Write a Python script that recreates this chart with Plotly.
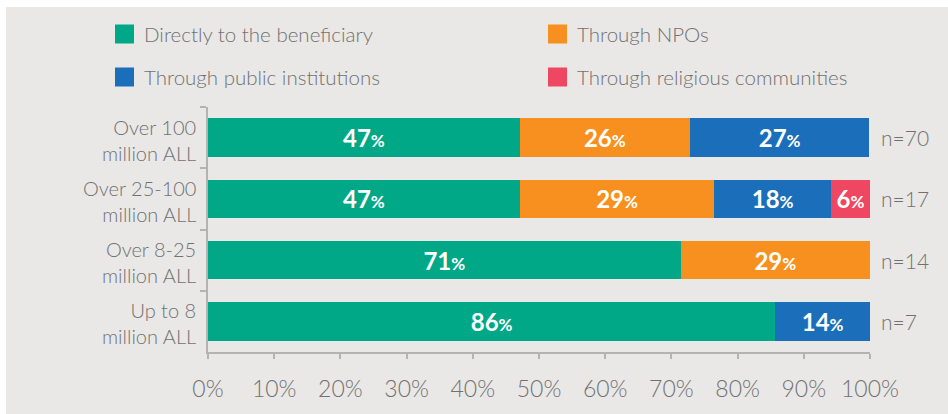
import plotly.graph_objects as go

categories = ["Over 100<br>million ALL", "Over 25-100<br>million ALL", "Over 8-25<br>million ALL", "Up to 8<br>million ALL"]
series_names = ["Directly to the beneficiary", "Through NPOs", "Through public institutions", "Through religious communities"]
direct = [47.1, 47.1, 71.4, 85.7]
npos = [25.7, 29.4, 28.6, 0]
public = [27.1, 17.6, 0, 14.3]
religious = [0, 5.9, 0, 0]
n_labels = ["n=70", "n=17", "n=14", "n=7"]
x_ticks = [0, 10, 20, 30, 40, 50, 60, 70, 80, 90, 100]

colors = ["#00a887", "#f7901e", "#1b6fba", "#ef4662"]
FONT = "Lato"
GRAY_TXT = "#717171"
LIGHT = 300

fig = go.Figure()
for name, vals, col in zip(series_names, [direct, npos, public, religious], colors):
    txt = [f"<b>{round(v)}</b><span style='font-size:17px'><b>%</b></span>" if v > 0 else "" for v in vals]
    fig.add_trace(go.Bar(
        y=categories, x=vals, name=name, orientation="h",
        marker=dict(color=col, line=dict(width=0)),
        text=txt, textposition="inside", insidetextanchor="middle", textangle=0,
        insidetextfont=dict(family=FONT, size=24, color="white"),
        showlegend=False, hoverinfo="skip",
    ))

# n labels
for c, n in zip(categories, n_labels):
    fig.add_annotation(x=100, y=c, xref="x", yref="y", text=n, showarrow=False,
                       xanchor="left", xshift=9, font=dict(family=FONT, size=21, color=GRAY_TXT, weight=LIGHT))

# category labels, right aligned
for c in categories:
    fig.add_annotation(x=0, y=c, xref="paper", yref="y", text=c, showarrow=False, align="right",
                       xanchor="right", yanchor="middle", xshift=-10, yshift=-2,
                       font=dict(family=FONT, size=20, color=GRAY_TXT, weight=LIGHT))

# manual legend (pixel -> paper conversion)
L, R, T, B = 208, 870, 107, 352
W, H = R - L, B - T
def px(xp):
    return (xp - L) / W
def py(yp):
    return (B - yp) / H

legend_pos = [(115, 34), (548, 34), (115, 77), (548, 77)]
for (lx, ly), name, col in zip(legend_pos, series_names, colors):
    fig.add_shape(type="rect", xref="paper", yref="paper",
                  x0=px(lx), x1=px(lx + 19), y0=py(ly + 9.5), y1=py(ly - 9.5),
                  fillcolor=col, line=dict(width=0), layer="above")
    fig.add_annotation(xref="paper", yref="paper", x=px(lx + 27), y=py(ly), text=name,
                       showarrow=False, xanchor="left", yanchor="middle",
                       font=dict(family=FONT, size=20.5, color=GRAY_TXT, weight=LIGHT))

# gray background panel
fig.add_shape(type="rect", xref="paper", yref="paper", x0=px(6), x1=px(960), y0=py(430), y1=py(7),
              fillcolor="#e9e8e6", line=dict(width=0), layer="below")

fig.update_layout(
    barmode="stack",
    width=948, height=414,
    margin=dict(l=L, r=948 - R, t=T, b=414 - B, pad=0),
    paper_bgcolor="white", plot_bgcolor="rgba(0,0,0,0)",
    bargap=0.37,
    font=dict(family=FONT, color=GRAY_TXT),
)
fig.update_xaxes(range=[0, 100], tickvals=x_ticks, ticktext=[f"{v}%" for v in x_ticks],
                 showgrid=False, zeroline=False, showline=True, linecolor="#b3b3b3", linewidth=1.5,
                 ticks="outside", ticklen=5, tickcolor="#b3b3b3", tickwidth=1.5,
                 tickfont=dict(family=FONT, size=23, color=GRAY_TXT, weight=LIGHT),
                 ticklabelstandoff=11, fixedrange=True)
fig.update_yaxes(autorange="reversed", showgrid=False, zeroline=False, showline=True,
                 linecolor="#b3b3b3", linewidth=1.5, ticks="outside", ticklen=6, tickcolor="#b3b3b3",
                 tickwidth=1.5, tickson="boundaries", showticklabels=False, fixedrange=True)

fig.write_html("out.html", config={"displayModeBar": False},
               post_script="document.body.style.margin='0';")
